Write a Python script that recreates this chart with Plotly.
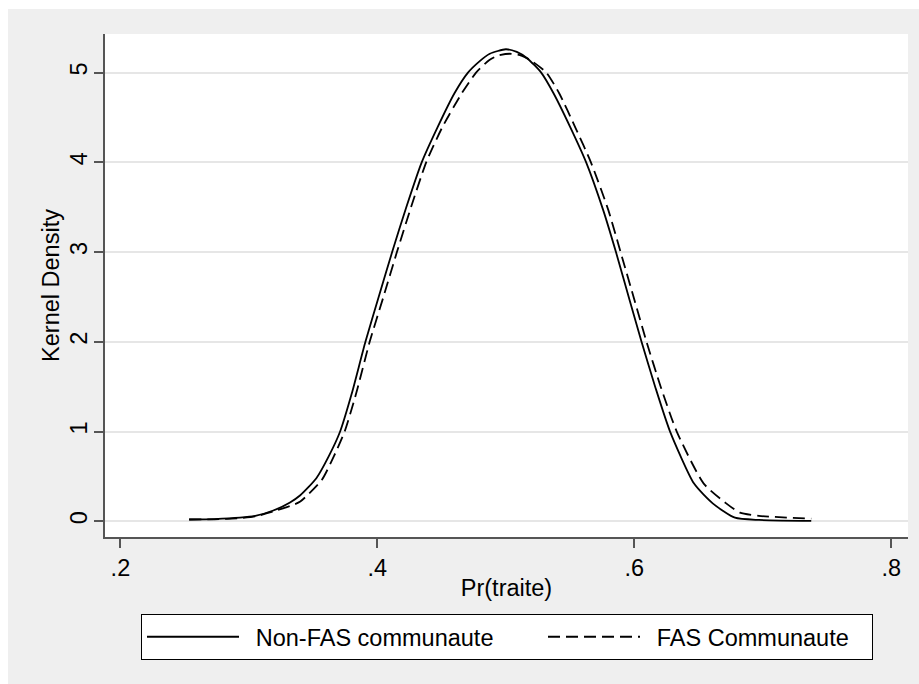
import plotly.graph_objects as go

# Non-FAS communaute (solid)
nonfas_x = [0.2535, 0.273, 0.293, 0.305, 0.319, 0.332, 0.340, 0.3525, 0.362, 0.371,
            0.380, 0.3907, 0.4010, 0.4115, 0.4225, 0.4345, 0.4468, 0.4600, 0.4705, 0.4790,
            0.4875, 0.500, 0.5085, 0.5165, 0.5275, 0.5371, 0.5502, 0.5625, 0.5757, 0.5857,
            0.5964, 0.6056, 0.6162, 0.6278, 0.6465, 0.6610, 0.6783, 0.697, 0.7377]
nonfas_y = [0.02, 0.025, 0.04, 0.06, 0.12, 0.21, 0.29, 0.48, 0.72, 1.0,
            1.42, 2.0, 2.5, 3.0, 3.5, 4.0, 4.39, 4.77, 5.0, 5.12,
            5.21, 5.26, 5.23, 5.16, 5.0, 4.77, 4.39, 4.0, 3.47, 3.0,
            2.46, 2.0, 1.5, 1.0, 0.42, 0.2, 0.04, 0.015, 0.005]

# FAS Communaute (dashed)
fas_x = [0.2535, 0.273, 0.293, 0.305, 0.319, 0.332, 0.340, 0.3567, 0.366, 0.3745,
         0.3834, 0.3940, 0.4047, 0.4152, 0.4262, 0.4380, 0.4505, 0.4657, 0.4768, 0.4872,
         0.4940, 0.503, 0.512, 0.519, 0.5315, 0.5415, 0.5540, 0.5662, 0.5797, 0.5893,
         0.6002, 0.6095, 0.6205, 0.6330, 0.6540, 0.6715, 0.6822, 0.697, 0.7377]
fas_y = [0.02, 0.022, 0.035, 0.055, 0.11, 0.17, 0.22, 0.46, 0.72, 1.0,
         1.42, 2.0, 2.5, 3.0, 3.5, 4.0, 4.39, 4.77, 5.0, 5.14,
         5.19, 5.21, 5.19, 5.14, 5.0, 4.77, 4.39, 4.0, 3.47, 3.0,
         2.46, 2.0, 1.5, 1.0, 0.42, 0.2, 0.096, 0.06, 0.03]

series_names = ["Non-FAS communaute", "FAS Communaute"]

x_ticks = [0.2, 0.4, 0.6, 0.8]
x_ticklabels = [".2", ".4", ".6", ".8"]
y_ticks = [0, 1, 2, 3, 4, 5]
y_ticklabels = ["0", "1", "2", "3", "4", "5"]

FONT = "Liberation Sans, Arial, sans-serif"
FS = 23.5
PAD = "\u2002"  # spacing between legend symbol and label

fig = go.Figure()
fig.add_trace(go.Scatter(x=nonfas_x, y=nonfas_y, mode="lines", name=PAD + series_names[0],
                         line=dict(color="black", width=1.8, shape="spline", smoothing=0.6),
                         legendwidth=294))
fig.add_trace(go.Scatter(x=fas_x, y=fas_y, mode="lines", name=PAD + series_names[1],
                         line=dict(color="black", width=1.8, dash="12px,6px",
                                   shape="spline", smoothing=0.6),
                         legendwidth=222))

W, H = 919, 684
L, R, T, B = 105, 908, 34, 537
pw, ph = R - L, B - T

def px_x(px):
    return (px - L) / pw

def px_y(py):
    return (B - py) / ph

fig.update_layout(
    width=W, height=H,
    margin=dict(l=L, r=W - R, t=T, b=H - B, pad=0),
    paper_bgcolor="#efefef",
    plot_bgcolor="white",
    font=dict(family=FONT, size=FS, color="black"),
    showlegend=True,
    legend=dict(orientation="h", x=px_x(141), y=px_y(614), xanchor="left", yanchor="top",
                bgcolor="white", bordercolor="black", borderwidth=1,
                font=dict(family=FONT, size=FS, color="black"),
                itemwidth=92, traceorder="normal"),
    xaxis=dict(range=[0.188, 0.813], tickmode="array", tickvals=x_ticks, ticktext=x_ticklabels,
               ticks="outside", ticklen=9, tickwidth=1.5, tickcolor="#555555",
               showline=True, linecolor="#555555", linewidth=1.5, mirror=False,
               showgrid=False, zeroline=False,
               title=dict(text="Pr(traite)", font=dict(family=FONT, size=FS), standoff=0),
               tickfont=dict(family=FONT, size=FS)),
    yaxis=dict(range=[-0.175, 5.43], tickmode="array", tickvals=y_ticks, ticktext=y_ticklabels,
               ticks="outside", ticklen=9, tickwidth=1.5, tickcolor="#555555",
               showline=True, linecolor="#555555", linewidth=1.5, mirror=False,
               showgrid=True, gridcolor="#e6e6e6", gridwidth=1.5, zeroline=False,
               tickangle=-90, ticklabelstandoff=-2,
               title=dict(text="Kernel Density", font=dict(family=FONT, size=FS), standoff=0),
               tickfont=dict(family=FONT, size=FS)),
    shapes=[
        dict(type="rect", xref="paper", yref="paper", x0=px_x(-5), x1=px_x(W + 5),
             y0=px_y(9), y1=px_y(-5), fillcolor="white", line=dict(width=0), layer="below"),
        dict(type="rect", xref="paper", yref="paper", x0=px_x(-5), x1=px_x(8),
             y0=px_y(H + 5), y1=px_y(-5), fillcolor="white", line=dict(width=0), layer="below"),
    ],
)

fig.write_html("out.html")
